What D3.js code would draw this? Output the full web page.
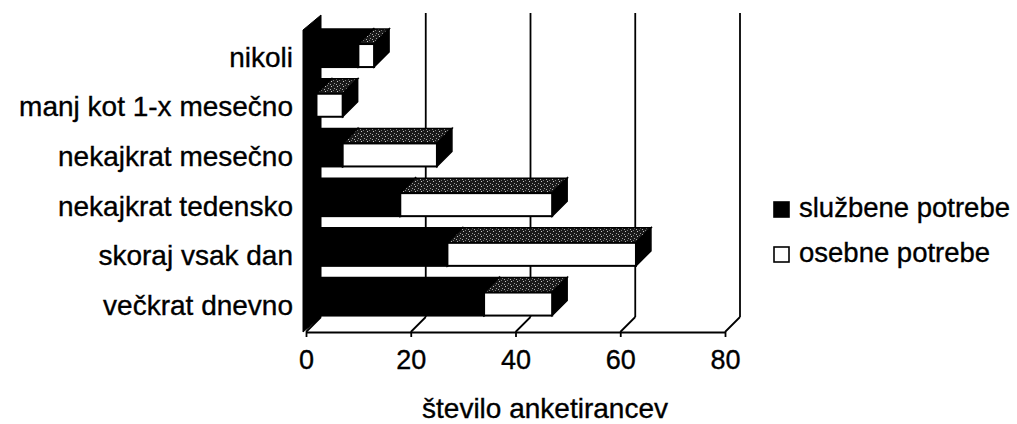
<!DOCTYPE html>
<html>
<head>
<meta charset="utf-8">
<script src="https://cdn.jsdelivr.net/npm/d3@7"></script>
<style>
  html, body { margin: 0; padding: 0; background: #fff; }
  svg { display: block; font-family: "Liberation Sans", Arial, Helvetica, sans-serif; }
  svg text { stroke: #000; stroke-width: 0.35px; }
</style>
</head>
<body>
<svg id="chart" width="1017" height="424"></svg>
<script>
// ---- data ----
const categories = ["nikoli", "manj kot 1-x mesečno", "nekajkrat mesečno", "nekajkrat tedensko", "skoraj vsak dan", "večkrat dnevno"];
const sluzbene = [10, 2, 7, 18, 27, 34];
const osebne = [3, 5, 18, 29, 36, 13];
const seriesNames = ["službene potrebe", "osebne potrebe"];
const xTicks = [0, 20, 40, 60, 80];
const xTitle = "število anketirancev";

// ---- layout ----
const svg = d3.select("#chart");
const floorY = 332, topFront = 30, DX = 15, DY = 15;
const x = d3.scaleLinear().domain([0, 80]).range([306, 725]);
const y = d3.scaleBand().domain(categories).range([30.7, 328.9])
  .paddingInner(0.537).paddingOuter(0.2685);
const bw = y.bandwidth();

const defs = svg.append("defs");
const pat = defs.append("pattern").attr("id", "stip").attr("width", 6).attr("height", 5)
  .attr("patternUnits", "userSpaceOnUse");
pat.append("rect").attr("width", 6).attr("height", 5).attr("fill", "#1a1a1a");
[[1,1,"#c8c8c8"],[4,3,"#9a9a9a"],[3,0,"#777"],[0,4,"#aaa"]].forEach(([px,py,c]) =>
  pat.append("rect").attr("x", px).attr("y", py).attr("width", 1).attr("height", 1).attr("fill", c));

// back wall gridlines
svg.append("g").selectAll("line").data(xTicks.slice(1)).join("line")
  .attr("x1", d => x(d) + DX).attr("x2", d => x(d) + DX)
  .attr("y1", floorY - DY).attr("y2", topFront - DY - 2)
  .attr("stroke", "#000").attr("stroke-width", 1.8);

// floor diagonals
svg.append("g").selectAll("line").data(xTicks).join("line")
  .attr("x1", d => x(d)).attr("y1", floorY)
  .attr("x2", d => x(d) + DX).attr("y2", floorY - DY)
  .attr("stroke", "#000").attr("stroke-width", 1.8);

// left side wall (black)
const x0 = x(0);
svg.append("path")
  .attr("d", `M${x0-3},${floorY} L${x0-3},${topFront} L${x0+DX},${topFront-DY} L${x0+DX},${floorY-DY} Z`)
  .attr("fill", "#000").attr("stroke", "#000").attr("stroke-width", 1);

// bottom axis
const xAxis = d3.axisBottom(x).tickValues(xTicks).tickSize(5).tickSizeOuter(0).tickPadding(12.5);
const gx = svg.append("g").attr("transform", `translate(0,${floorY})`).call(xAxis);
gx.select(".domain").attr("stroke", "#000").attr("stroke-width", 2);
gx.selectAll(".tick line").attr("stroke", "#000").attr("stroke-width", 1.8);
gx.selectAll("text").attr("font-size", 27).attr("fill", "#000");

// bars
function drawSeg(g, a, b, yTop, front, top, side) {
  const xa = x(a), xb = x(b), yb = yTop + bw;
  g.append("path").attr("d", `M${xa},${yTop} L${xb},${yTop} L${xb+DX},${yTop-DY} L${xa+DX},${yTop-DY} Z`)
    .attr("fill", top).attr("stroke", "#000").attr("stroke-width", 1.5);
  g.append("path").attr("d", `M${xb},${yTop} L${xb+DX},${yTop-DY} L${xb+DX},${yb-DY} L${xb},${yb} Z`)
    .attr("fill", side).attr("stroke", "#000").attr("stroke-width", 1.5);
  g.append("rect").attr("x", xa).attr("y", yTop).attr("width", xb - xa).attr("height", bw)
    .attr("fill", front).attr("stroke", "#000").attr("stroke-width", 2);
}
const bars = svg.append("g");
categories.forEach((c, i) => {
  const g = bars.append("g");
  const yt = y(c);
  drawSeg(g, 0, sluzbene[i], yt, "#000", "#000", "#000");
  drawSeg(g, sluzbene[i], sluzbene[i] + osebne[i], yt, "#fff", "url(#stip)", "#000");
});

// category axis
const yAxis = d3.axisLeft(y).tickSize(0).tickPadding(13);
const gy = svg.append("g").attr("transform", `translate(${x0},2)`).call(yAxis);
gy.select(".domain").remove();
gy.selectAll("text").attr("font-size", 28).attr("fill", "#000");

// axis title
svg.append("text").attr("x", 545).attr("y", 418).attr("text-anchor", "middle")
  .attr("font-size", 28).attr("fill", "#000").text(xTitle);

// legend
const leg = svg.append("g");
const legFill = ["#000", "#fff"];
seriesNames.forEach((n, i) => {
  const ly = 217 + i * 45;
  leg.append("rect").attr("x", 774).attr("y", ly - 15).attr("width", 15).attr("height", 15)
    .attr("fill", legFill[i]).attr("stroke", "#000").attr("stroke-width", 1.6);
  leg.append("text").attr("x", 799).attr("y", ly).attr("font-size", 27.5).attr("fill", "#000").text(n);
});
</script>
</body>
</html>
